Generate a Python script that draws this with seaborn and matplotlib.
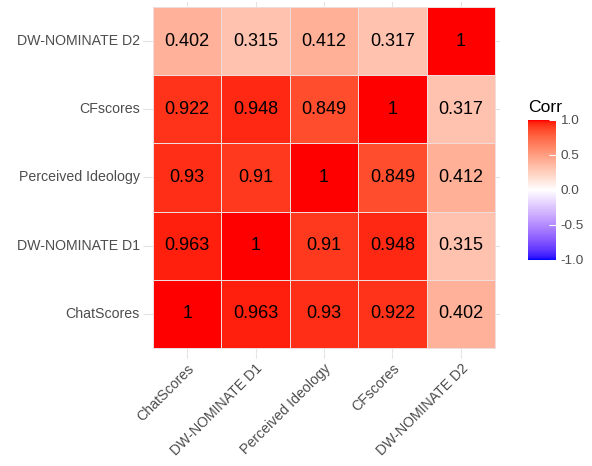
import numpy as np
import pandas as pd
import seaborn as sns
import matplotlib.pyplot as plt
from matplotlib.colors import ListedColormap

plt.rcParams['font.family'] = ['Liberation Sans', 'DejaVu Sans']
plt.rcParams['axes.unicode_minus'] = False

# 変数名
labels = ['ChatScores', 'DW-NOMINATE D1', 'Perceived Ideology', 'CFscores', 'DW-NOMINATE D2']

# 相関係数
chat = [1, 0.963, 0.93, 0.922, 0.402]
dw1 = [0.963, 1, 0.91, 0.948, 0.315]
perc = [0.93, 0.91, 1, 0.849, 0.412]
cfs = [0.922, 0.948, 0.849, 1, 0.317]
dw2 = [0.402, 0.315, 0.412, 0.317, 1]

cbar_ticks = [-1.0, -0.5, 0.0, 0.5, 1.0]


# blue - white - red をLab空間で補間 (ggplotと同じ)
def to_lab(rgb):
    c = np.array(rgb, dtype=float)
    c = np.where(c <= 0.04045, c / 12.92, ((c + 0.055) / 1.055) ** 2.4)
    m = np.array([[0.4124, 0.3576, 0.1805], [0.2126, 0.7152, 0.0722], [0.0193, 0.1192, 0.9505]])
    xyz = m @ c / np.array([0.95047, 1.0, 1.08883])
    f = np.where(xyz > 0.008856, np.cbrt(xyz), 7.787 * xyz + 16 / 116)
    return np.array([116 * f[1] - 16, 500 * (f[0] - f[1]), 200 * (f[1] - f[2])])


def from_lab(lab):
    fy = (lab[0] + 16) / 116
    fx = fy + lab[1] / 500
    fz = fy - lab[2] / 200
    f = np.array([fx, fy, fz])
    xyz = np.where(f ** 3 > 0.008856, f ** 3, (f - 16 / 116) / 7.787) * np.array([0.95047, 1.0, 1.08883])
    mi = np.array([[3.2406, -1.5372, -0.4986], [-0.9689, 1.8758, 0.0415], [0.0557, -0.2040, 1.0570]])
    c = mi @ xyz
    c = np.where(c <= 0.0031308, 12.92 * c, 1.055 * np.clip(c, 0, None) ** (1 / 2.4) - 0.055)
    return np.clip(c, 0, 1)


lo, mid, hi = to_lab([0, 0, 1]), to_lab([1, 1, 1]), to_lab([1, 0, 0])
cols = []
for t in np.linspace(0, 1, 256):
    if t < 0.5:
        cols.append(from_lab(lo + (mid - lo) * t * 2))
    else:
        cols.append(from_lab(mid + (hi - mid) * (t - 0.5) * 2))
cmap = ListedColormap(cols)

df = pd.DataFrame([chat, dw1, perc, cfs, dw2], index=labels, columns=labels)
df = df.iloc[::-1]

fig = plt.figure(figsize=(5.92, 4.66), dpi=100)
pad = 5 / 68.4
ax = fig.add_axes([148 / 592, 1 - 353 / 466, 352 / 592, 351 / 466])
cax = fig.add_axes([528 / 592, 1 - 260 / 466, 28 / 592, 140 / 466])

# グリッド線 (パネルの余白に見える)
for i in range(5):
    ax.axvline(i + 0.5, color='#E3E3E3', lw=0.8, zorder=0)
    ax.axhline(i + 0.5, color='#E3E3E3', lw=0.8, zorder=0)

sns.heatmap(df, ax=ax, cbar_ax=cax, cmap=cmap, vmin=-1, vmax=1, annot=True, fmt='g',
            annot_kws={'size': 13, 'color': 'black'}, linewidths=0.5, linecolor='#F0DCDC',
            cbar_kws={'ticks': cbar_ticks})
ax.set_xlim(-pad, 5 + pad)
ax.set_ylim(5 + pad, -pad)
ax.set_xlabel('')
ax.set_ylabel('')
for c in ax.collections:
    c.set_zorder(1)
for t in ax.texts:
    t.set_zorder(3)

ax.tick_params(axis='both', length=3.5, width=0.8, color='#E3E3E3', labelcolor='#4D4D4D', labelsize=10.2, pad=2.5)
ax.set_xticklabels(df.columns, rotation=45, ha='right', va='top', rotation_mode='anchor')
ax.set_yticklabels(df.index, rotation=0)

cbar = ax.collections[0].colorbar
cbar.outline.set_visible(False)
cax.tick_params(length=5, width=0.8, color='white', direction='in', labelcolor='#4D4D4D', labelsize=9.7, pad=3)
cax.set_yticklabels(['%.1f' % v for v in cbar_ticks])
cax.set_title('Corr', loc='left', fontsize=12.6, pad=6)

plt.savefig('out.png', dpi=100)
